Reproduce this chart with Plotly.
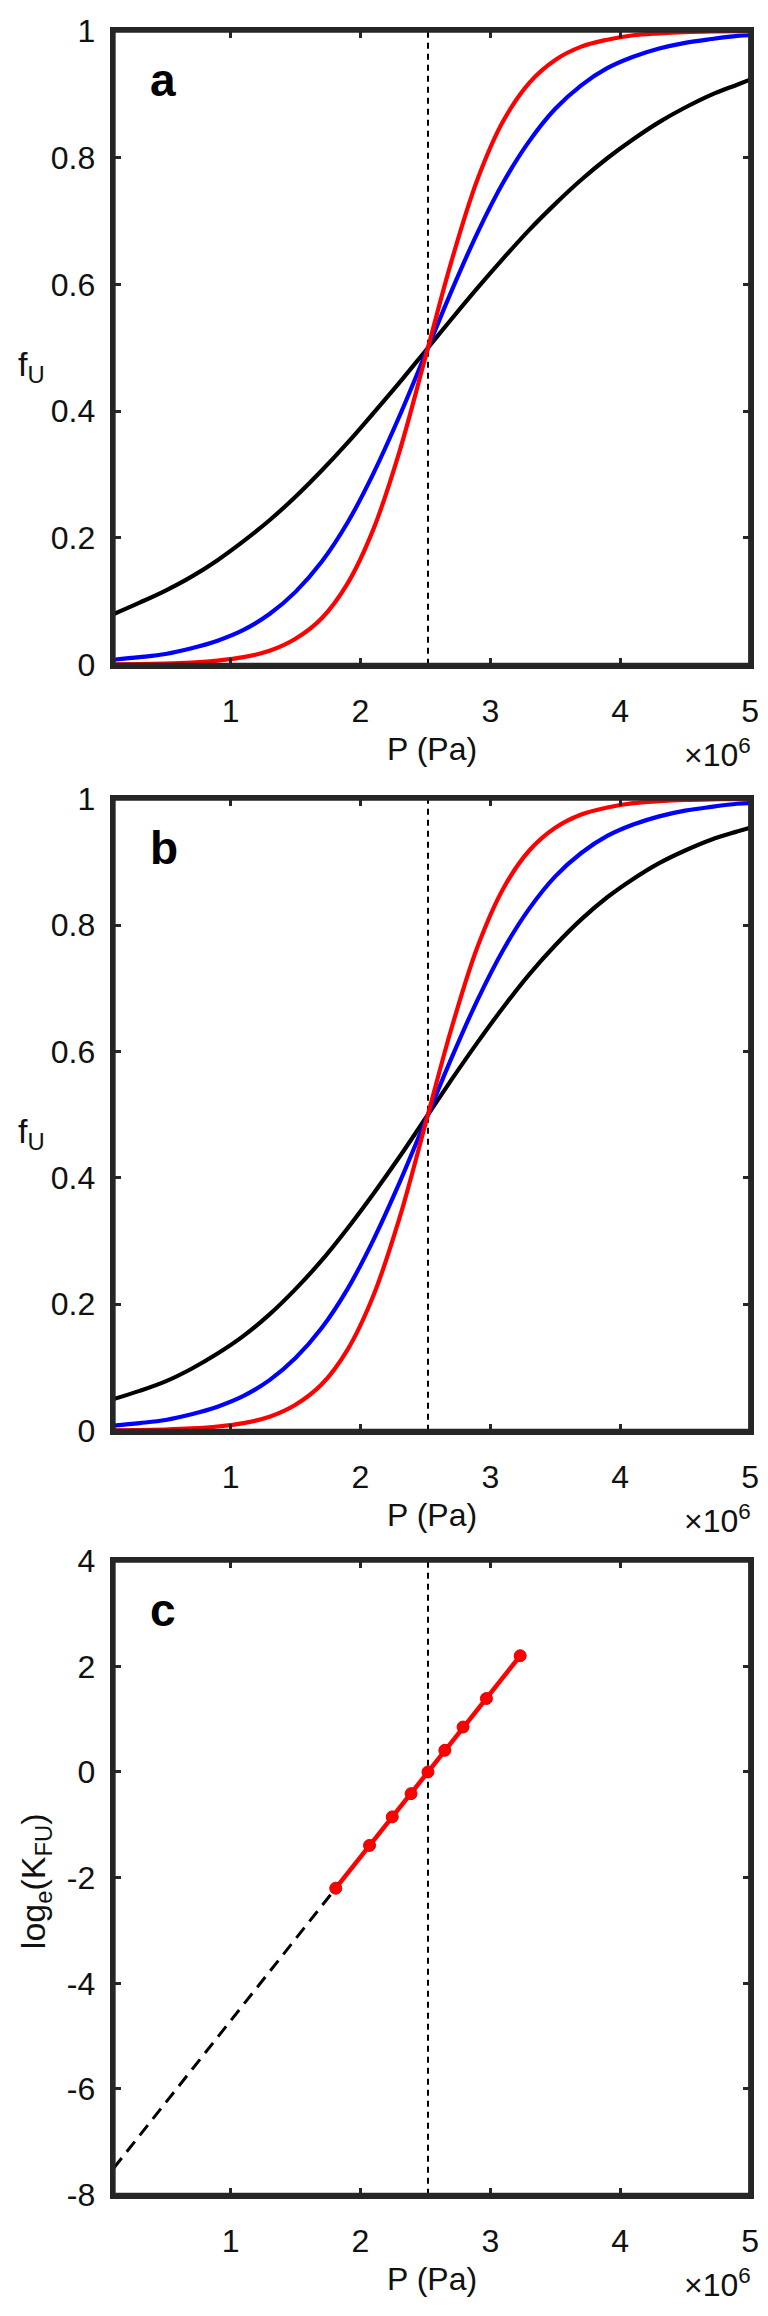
import numpy as np
import plotly.graph_objects as go

# ---------------- data (P in units of 1e6 Pa) ----------------
P_scale = 1e6
P_grid = [0.1, 0.3, 0.5, 0.7, 0.9, 1.1, 1.3, 1.5, 1.7, 1.9, 2.1, 2.3, 2.5,
          2.7, 2.9, 3.1, 3.3, 3.5, 3.7, 3.9, 4.1, 4.3, 4.5, 4.7, 4.9, 5.0]

fU_a_black = [0.080, 0.098, 0.117, 0.139, 0.165, 0.195, 0.228, 0.265, 0.306,
              0.350, 0.397, 0.445, 0.495, 0.545, 0.594, 0.641, 0.686, 0.727,
              0.765, 0.799, 0.829, 0.856, 0.879, 0.899, 0.915, 0.923]
fU_a_blue = [0.008, 0.012, 0.017, 0.026, 0.038, 0.055, 0.080, 0.115, 0.162,
             0.224, 0.302, 0.392, 0.490, 0.589, 0.681, 0.761, 0.826, 0.877,
             0.914, 0.941, 0.959, 0.972, 0.981, 0.987, 0.992, 0.993]
fU_a_red = [0.0006, 0.0010, 0.0019, 0.0036, 0.0066, 0.012, 0.022, 0.041,
            0.073, 0.128, 0.214, 0.336, 0.485, 0.636, 0.765, 0.858, 0.918,
            0.954, 0.975, 0.986, 0.993, 0.996, 0.998, 0.999, 0.9994, 0.9995]

fU_b_black = [0.050, 0.063, 0.078, 0.098, 0.122, 0.150, 0.184, 0.224, 0.269,
              0.320, 0.375, 0.433, 0.494, 0.555, 0.614, 0.670, 0.722, 0.768,
              0.809, 0.844, 0.873, 0.898, 0.918, 0.935, 0.948, 0.954]
fU_b_blue = [0.008, 0.012, 0.017, 0.026, 0.038, 0.055, 0.080, 0.115, 0.162,
             0.224, 0.302, 0.392, 0.490, 0.589, 0.681, 0.761, 0.826, 0.877,
             0.914, 0.941, 0.959, 0.972, 0.981, 0.987, 0.992, 0.993]
fU_b_red = [0.0006, 0.0010, 0.0019, 0.0036, 0.0066, 0.012, 0.022, 0.041,
            0.073, 0.128, 0.214, 0.336, 0.485, 0.636, 0.765, 0.858, 0.918,
            0.954, 0.975, 0.986, 0.993, 0.996, 0.998, 0.999, 0.9994, 0.9995]

P_mid = [2.52, 2.52]
fU_span = [0, 1]
lnK_span = [-8, 4]

lnK_P = [1.81, 2.07, 2.245, 2.39, 2.52, 2.65, 2.79, 2.97, 3.23]
lnK = [-2.2, -1.39, -0.85, -0.41, 0.0, 0.41, 0.85, 1.39, 2.2]
extrap_P = [0.1, 1.81]
extrap_lnK = [-7.5, -2.2]

x_tick_vals = [1, 2, 3, 4, 5]
x_tick_text = ["1", "2", "3", "4", "5"]
fU_tick_vals = [0, 0.2, 0.4, 0.6, 0.8, 1]
fU_tick_text = ["0", "0.2", "0.4", "0.6", "0.8", "1"]
lnK_tick_vals = [-8, -6, -4, -2, 0, 2, 4]
lnK_tick_text = ["-8", "-6", "-4", "-2", "0", "2", "4"]

# ---------------- figure ----------------
W, H = 768, 2316
FONT = "Liberation Sans, Arial, Helvetica, sans-serif"
AX = "#262626"
x0px, x1px = 115, 759
panels = [(13, 657), (793, 1435), (1567, 2211)]


def px_x(p):
    return p / W


def px_y(p):
    return 1 - p / H


def P(arr):
    return [v * P_scale for v in arr]


fig = go.Figure()

curve_sets = [
    (fU_a_black, fU_a_blue, fU_a_red),
    (fU_b_black, fU_b_blue, fU_b_red),
]
for i, (bk, bl, rd) in enumerate(curve_sets):
    xa = "x" if i == 0 else f"x{i+1}"
    ya = "y" if i == 0 else f"y{i+1}"
    fig.add_trace(go.Scatter(x=P(P_mid), y=fU_span, mode="lines",
                             line=dict(color="black", width=2, dash="6px,5px"),
                             xaxis=xa, yaxis=ya))
    for ys, col in ((bk, "black"), (bl, "#0000ff"), (rd, "#ff0000")):
        fig.add_trace(go.Scatter(x=P(P_grid), y=ys, mode="lines",
                                 line=dict(color=col, width=4.2, shape="spline"),
                                 xaxis=xa, yaxis=ya))

# panel c
fig.add_trace(go.Scatter(x=P(P_mid), y=lnK_span, mode="lines",
                         line=dict(color="black", width=2, dash="6px,5px"),
                         xaxis="x3", yaxis="y3"))
fig.add_trace(go.Scatter(x=P(extrap_P), y=extrap_lnK, mode="lines",
                         line=dict(color="black", width=3, dash="13px,8px"),
                         xaxis="x3", yaxis="y3"))
fig.add_trace(go.Scatter(x=P(lnK_P), y=lnK, mode="lines+markers",
                         line=dict(color="#ff0000", width=4.5),
                         marker=dict(color="#ff0000", size=12,
                                     line=dict(color="#e00000", width=1)),
                         xaxis="x3", yaxis="y3"))

axis_common = dict(showline=True, mirror="ticks", linewidth=4, linecolor=AX,
                   ticks="inside", ticklen=7, tickwidth=3, tickcolor=AX,
                   showgrid=False, zeroline=False, ticklabeloverflow="allow",
                   tickfont=dict(family=FONT, size=32, color="#111111"))

layout = dict(width=W, height=H, margin=dict(l=0, r=0, t=0, b=0),
              paper_bgcolor="white", plot_bgcolor="white", showlegend=False)

annotations = []
shapes = []
for i, (top, bot) in enumerate(panels):
    sx = "" if i == 0 else str(i + 1)
    layout[f"xaxis{sx}"] = dict(axis_common,
                                domain=[px_x(x0px), px_x(x1px)],
                                range=[0.1 * P_scale, 5 * P_scale],
                                tickvals=P(x_tick_vals), ticktext=x_tick_text,
                                anchor=f"y{sx}", ticklabelstandoff=15)
    if i < 2:
        ydict = dict(range=[0, 1], tickvals=fU_tick_vals, ticktext=fU_tick_text)
    else:
        ydict = dict(range=[-8, 4], tickvals=lnK_tick_vals, ticktext=lnK_tick_text)
    layout[f"yaxis{sx}"] = dict(axis_common, **ydict,
                                domain=[px_y(bot), px_y(top)],
                                anchor=f"x{sx}", ticklabelstandoff=8)
    # frame box (ensures right edge is drawn)
    shapes.append(dict(type="rect", xref=f"x{sx} domain", yref=f"y{sx} domain",
                       x0=0, x1=1, y0=0, y1=1, layer="above",
                       line=dict(color=AX, width=4), fillcolor="rgba(0,0,0,0)"))
    # panel letter
    annotations.append(dict(text="<b>" + "abc"[i] + "</b>", xref="paper", yref="paper",
                            x=px_x(150), y=px_y(top + 50), xanchor="left", yanchor="middle",
                            showarrow=False, font=dict(family=FONT, size=46, color="black")))
    # x title
    annotations.append(dict(text="P (Pa)", xref="paper", yref="paper",
                            x=px_x((x0px + x1px) / 2), y=px_y(bot + 86),
                            xanchor="center", yanchor="middle", showarrow=False,
                            font=dict(family=FONT, size=32, color="#111111")))
    # exponent
    annotations.append(dict(text="\u00d710<sup>6</sup>", xref="paper", yref="paper",
                            x=px_x(762), y=px_y(bot + 90),
                            xanchor="right", yanchor="middle", showarrow=False,
                            font=dict(family=FONT, size=32, color="#111111")))
    if i < 2:
        annotations.append(dict(text="f<sub>U</sub>", xref="paper", yref="paper",
                                x=px_x(32), y=px_y(top + 0.53 * (bot - top)),
                                xanchor="center", yanchor="middle", showarrow=False,
                                font=dict(family=FONT, size=34, color="#111111")))
    else:
        annotations.append(dict(text="log<sub>e</sub>(K<sub>FU</sub>)", xref="paper",
                                yref="paper", x=px_x(36), y=px_y(1893),
                                xanchor="center", yanchor="middle", textangle=-90,
                                showarrow=False,
                                font=dict(family=FONT, size=34, color="#111111")))

layout["annotations"] = annotations
layout["shapes"] = shapes
fig.update_layout(**layout)

post_js = ("document.documentElement.style.margin='0';"
           "document.documentElement.style.overflow='hidden';"
           "document.body.style.margin='0';document.body.style.overflow='hidden';")
fig.write_html("out.html", post_script=post_js, config={"displayModeBar": False})
